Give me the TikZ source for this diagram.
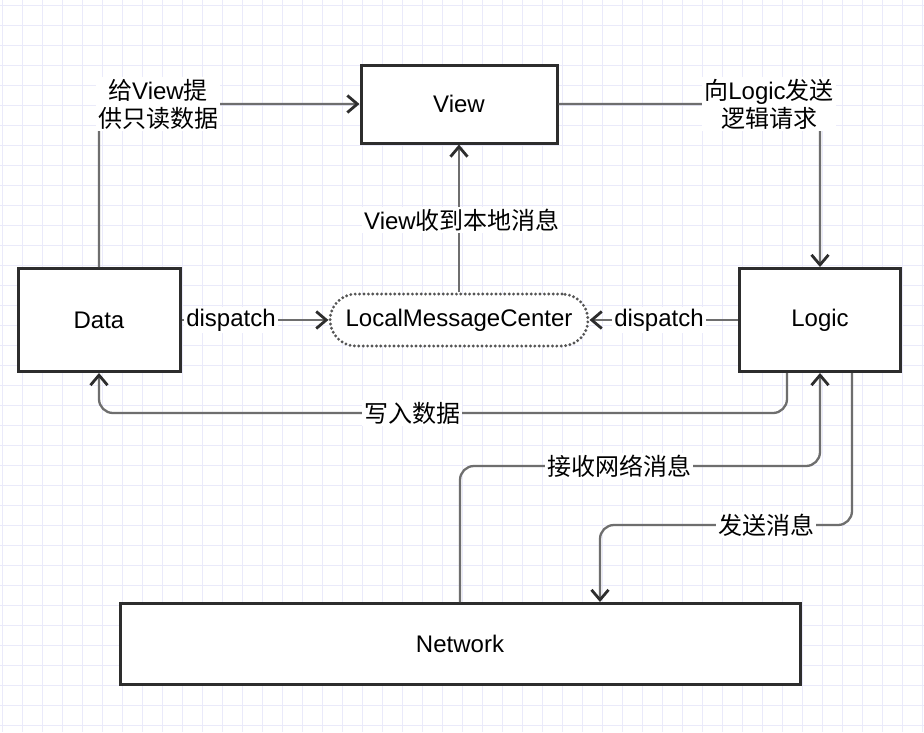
\documentclass[tikz,border=0pt]{standalone}
\usepackage{fontspec}
\setmainfont{Liberation Sans}
\newfontfamily\cjk{Noto Sans CJK SC}
\usetikzlibrary{arrows.meta}

\definecolor{gridcol}{RGB}{234,234,250}
\definecolor{linecol}{RGB}{110,110,110}
\definecolor{boxcol}{RGB}{45,45,45}
\definecolor{dotcol}{RGB}{85,85,85}

\begin{document}
\begin{tikzpicture}[x=1pt, y=-1pt,
    box/.style={draw=boxcol, line width=3pt, fill=white, font=\fontsize{24}{28}\selectfont},
    conn/.style={draw=linecol, line width=2.3pt, rounded corners=14pt,
        -{Straight Barb[length=10pt, width=17pt, line width=2.8pt, color=boxcol]}},
    lbl/.style={fill=white, inner sep=2pt, align=center, font=\fontsize{24}{28}\selectfont}]

    % Background grid
    \path[use as bounding box, fill=white] (0,0) rectangle (924,732);
    \foreach \x in {2,22,...,922} \draw[gridcol, line width=1pt] (\x,0) -- (\x,732);
    \foreach \y in {5,25,...,725} \draw[gridcol, line width=1pt] (0,\y) -- (924,\y);

    % Define the boxes
    \node[box, minimum width=196pt, minimum height=78pt] (view) at (459,104) {View};
    \node[box, minimum width=162pt, minimum height=103pt] (data) at (99,320) {Data};
    \node[box, minimum width=161pt, minimum height=103pt] (logic) at (820,320) {Logic};
    \node[box, draw=dotcol, line width=3.2pt, line cap=round, dash pattern=on 0pt off 4.4pt,
        rounded corners=26pt, minimum width=258pt, minimum height=52pt] (lmc) at (459,320) {LocalMessageCenter};
    \node[box, minimum width=680pt, minimum height=81pt] (net) at (460,644) {Network};

    % Define the label points
    \coordinate (give) at (158,104);
    \coordinate (ask) at (769,104);
    \coordinate (write) at (412,413);
    \coordinate (recv) at (619,466);
    \coordinate (send) at (766,525);

    % Draw the connectors
    \draw[conn] (data.north) |- (give) -- (view.west);
    \draw[conn] (view.east) -- (ask) -| (logic.north);
    \draw[conn] (lmc.north) -- (view.south);
    \draw[conn] (data.east) -- (lmc.west);
    \draw[conn] (logic.west) -- (lmc.east);
    \draw[conn] ([xshift=-33pt]logic.south) |- (write) -| (data.south);
    \draw[conn] (net.north) |- (recv) -| (logic.south);
    \draw[conn] ([xshift=32pt]logic.south) |- (send) -| ([xshift=140pt]net.north);

    % Place the labels on the connectors
    \node[lbl] (giveText) at (give) {{\cjk 给}View{\cjk 提}\\{\cjk 供只读数据}};
    \node[lbl] (askText) at (ask) {{\cjk 向}Logic{\cjk 发送}\\{\cjk 逻辑请求}};
    \node[lbl] (notifyText) at (462,220) {View{\cjk 收到本地消息}};
    \node[lbl] (dispL) at (231,320) {dispatch};
    \node[lbl] (dispR) at (659,320) {dispatch};
    \node[lbl] (writeText) at (write) {\cjk 写入数据};
    \node[lbl] (recvText) at (recv) {\cjk 接收网络消息};
    \node[lbl] (sendText) at (send) {\cjk 发送消息};

\end{tikzpicture}
\end{document}
